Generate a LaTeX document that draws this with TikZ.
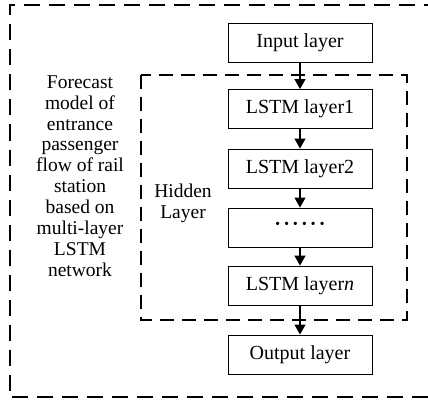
\documentclass[tikz,border=0pt]{standalone}
\usepackage{fontspec}
\setmainfont{Liberation Serif}
\usetikzlibrary{arrows.meta}
\begin{document}
\begin{tikzpicture}[x=1pt,y=-1pt,
  layerbox/.style={draw,line width=0.9pt,minimum width=144pt,minimum height=39pt,inner sep=0pt,font=\fontsize{20}{22}\selectfont},
  bigdash/.style={line width=2pt,dash pattern=on 16pt off 9pt},
  innerdash/.style={line width=2pt,dash pattern=on 14pt off 8pt},
  flow/.style={line width=1.2pt,-{Triangle[length=10pt,width=11pt]}},
  lbl/.style={align=center,inner sep=0pt,font=\fontsize{19.5}{20.9}\selectfont}]
\useasboundingbox (0,0) rectangle (428,401);
\draw[bigdash] (440,5) -- (9.5,5) -- (9.5,397) -- (440,397);
\draw[innerdash] (141,75) rectangle (407,320);
\node[layerbox] (in) at (300,42.5) {Input layer};
\node[layerbox] (l1) at (300,109) {LSTM layer1};
\node[layerbox] (l2) at (300,168.5) {LSTM layer2};
\node[layerbox] (ld) at (300,227.5) {\raisebox{0.3ex}{\bfseries\textperiodcentered\kern2.2pt\textperiodcentered\kern2.2pt\textperiodcentered\kern2.2pt\textperiodcentered\kern2.2pt\textperiodcentered\kern2.2pt\textperiodcentered}};
\node[layerbox] (ln) at (300,285.5) {LSTM layer\textit{n}};
\node[layerbox] (out) at (300,354.5) {Output layer};
\draw[flow] (in) -- (l1);
\draw[flow] (l1) -- (l2);
\draw[flow] (l2) -- (ld);
\draw[flow] (ld) -- (ln);
\draw[flow] (ln) -- (out);
\node[lbl] (desc) at (80,176) {Forecast\\model of\\entrance\\passenger\\flow of rail\\station\\based on\\multi-layer\\LSTM\\network};
\node[lbl] (hid) at (183,203) {Hidden\\Layer};
\end{tikzpicture}
\end{document}
